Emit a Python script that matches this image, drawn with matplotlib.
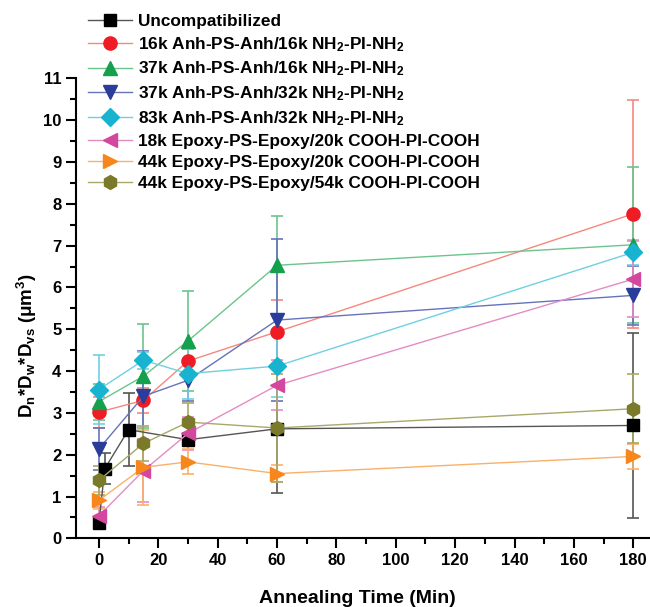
import matplotlib
matplotlib.use("Agg")
import matplotlib.pyplot as plt
import numpy as np

plt.rcParams["font.family"] = ["Liberation Sans", "DejaVu Sans"]
plt.rcParams["font.weight"] = "bold"
plt.rcParams["mathtext.fontset"] = "custom"
plt.rcParams["mathtext.rm"] = "Liberation Sans:bold"
plt.rcParams["mathtext.bf"] = "Liberation Sans:bold"
plt.rcParams["mathtext.it"] = "Liberation Sans:bold"
plt.rcParams["mathtext.default"] = "bf"

# --- data ---
labels = [
    "Uncompatibilized",
    "16k Anh-PS-Anh/16k NH$_2$-PI-NH$_2$",
    "37k Anh-PS-Anh/16k NH$_2$-PI-NH$_2$",
    "37k Anh-PS-Anh/32k NH$_2$-PI-NH$_2$",
    "83k Anh-PS-Anh/32k NH$_2$-PI-NH$_2$",
    "18k Epoxy-PS-Epoxy/20k COOH-PI-COOH",
    "44k Epoxy-PS-Epoxy/20k COOH-PI-COOH",
    "44k Epoxy-PS-Epoxy/54k COOH-PI-COOH",
]

t_uncomp = [0, 2, 10, 30, 60, 180]
y_uncomp = [0.38, 1.67, 2.60, 2.36, 2.62, 2.70]
e_uncomp = [0.10, 0.37, 0.88, 0.15, 1.54, 2.22]

t_std = [0, 15, 30, 60, 180]
y_16anh16 = [3.02, 3.30, 4.24, 4.94, 7.76]
e_16anh16 = [0.37, 0.30, 0.30, 0.76, 2.73]
y_37anh16 = [3.27, 3.88, 4.72, 6.53, 7.02]
e_37anh16 = [0.43, 1.25, 1.20, 1.18, 1.86]
y_37anh32 = [2.14, 3.40, 3.78, 5.22, 5.81]
e_37anh32 = [0.50, 1.07, 0.50, 1.94, 0.70]
y_83anh32 = [3.56, 4.26, 3.94, 4.12, 6.84]
e_83anh32 = [0.82, 0.20, 0.60, 0.74, 0.30]
y_18epo20 = [0.54, 1.62, 2.51, 3.66, 6.20]
e_18epo20 = [0.20, 0.75, 0.40, 0.60, 0.90]
y_44epo20 = [0.91, 1.70, 1.83, 1.55, 1.96]
e_44epo20 = [0.20, 0.90, 0.30, 0.20, 0.30]
y_44epo54 = [1.39, 2.27, 2.78, 2.64, 3.10]
e_44epo54 = [0.35, 0.42, 0.45, 1.28, 0.82]

series = [
    (t_uncomp, y_uncomp, e_uncomp, "s", "#000000", "#555555", 9),
    (t_std, y_16anh16, e_16anh16, "o", "#ee1c25", "#f4897f", 9.5),
    (t_std, y_37anh16, e_37anh16, "^", "#14a04c", "#6cc48d", 10),
    (t_std, y_37anh32, e_37anh32, "v", "#2a3d9a", "#6673bb", 10),
    (t_std, y_83anh32, e_83anh32, "D", "#18b4cf", "#6fd0e0", 9),
    (t_std, y_18epo20, e_18epo20, "<", "#d4479f", "#e48cc3", 10),
    (t_std, y_44epo20, e_44epo20, ">", "#f7861c", "#f9b06a", 10),
    (t_std, y_44epo54, e_44epo54, "h", "#7b7a2a", "#a9a86a", 10),
]

fig = plt.figure(figsize=(6.5, 6.07), dpi=100)
ax = fig.add_axes([0.117, 0.113, 0.903, 0.758])

handles = []
for (t, y, e, m, c, lc, ms), lab in zip(series, labels):
    ax.errorbar(t, y, yerr=e, fmt="none", ecolor=lc, elinewidth=1.2,
                capsize=4.5, capthick=1.2, zorder=2)
    h, = ax.plot(t, y, "-", color=lc, linewidth=1.0, marker=m,
                 markersize=ms, markerfacecolor=c, markeredgecolor=c,
                 zorder=3, label=lab)
    handles.append(h)

ax.set_xlim(-7.7, 190)
ax.set_ylim(0, 11)
ax.set_xticks(np.arange(0, 181, 20))
ax.set_xticks(np.arange(0, 181, 10), minor=True)
ax.set_yticks(np.arange(0, 12, 1))
ax.set_yticks(np.arange(0, 11.01, 0.5), minor=True)
ax.tick_params(which="major", direction="out", length=7, width=1.5, labelsize=12)
ax.tick_params(which="minor", direction="out", length=4, width=1.5)
for lbl in ax.get_xticklabels() + ax.get_yticklabels():
    lbl.set_fontweight("bold")
for s in ["top", "right"]:
    ax.spines[s].set_visible(False)
for s in ["left", "bottom"]:
    ax.spines[s].set_linewidth(1.5)

ax.set_xlabel("Annealing Time (Min)", fontsize=14, fontweight="bold")
ax.xaxis.set_label_coords(0.48, -0.112)
ax.set_ylabel("D$_n$*D$_w$*D$_{vs}$ ($\\mu$m$^3$)", fontsize=13.5, fontweight="bold")
ax.yaxis.set_label_coords(-0.063, 0.42)

fig.legend(handles=handles, loc="upper left", bbox_to_anchor=(0.135, 0.977),
           frameon=False, fontsize=12.4, handlelength=2.55, handletextpad=0.35,
           labelspacing=0.35, borderaxespad=0.0, borderpad=0.0)

fig.savefig("out.png", dpi=100)
